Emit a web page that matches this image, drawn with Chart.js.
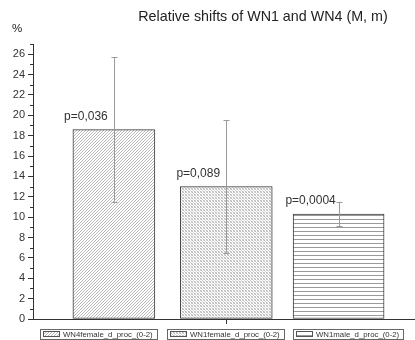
<!DOCTYPE html>
<html>
<head>
<meta charset="utf-8">
<script src="https://cdn.jsdelivr.net/npm/chart.js@4.4.1/dist/chart.umd.min.js"></script>
<style>
  html, body { margin: 0; padding: 0; background: #ffffff; }
  #wrap { width: 415px; height: 340px; }
</style>
</head>
<body>
<div id="wrap"><canvas id="c" width="415" height="340"></canvas></div>
<script>
// ---- chart data ----
const titleText = 'Relative shifts of WN1 and WN4 (M, m)';
const unitLabel = '%';
const seriesNames = ['WN4female_d_proc_(0-2)', 'WN1female_d_proc_(0-2)', 'WN1male_d_proc_(0-2)'];
const groupPositions = [1, 2, 3];
const meanValues = [18.6, 13.0, 10.3];
const errorValues = [7.1, 6.5, 1.2];
const pValueLabels = ['p=0,036', 'p=0,089', 'p=0,0004'];
const yTickValues = [0, 2, 4, 6, 8, 10, 12, 14, 16, 18, 20, 22, 24, 26];

const FONT = '"Liberation Sans", Arial, sans-serif';
const INK = '#333333';

// ---- hatch fills ----
function makePattern(kind) {
  const s = kind === 'horiz' ? 4 : 3;
  const c = document.createElement('canvas');
  c.width = s; c.height = s;
  const g = c.getContext('2d');
  g.fillStyle = '#ffffff';
  g.fillRect(0, 0, s, s);
  const col = '#a8a8a8';
  g.strokeStyle = col;
  g.fillStyle = col;
  g.lineWidth = 0.8;
  const diagUp = () => {
    g.beginPath();
    g.moveTo(-1, s + 1); g.lineTo(s + 1, -1);
    g.moveTo(-1, 1); g.lineTo(1, -1);
    g.moveTo(s - 1, s + 1); g.lineTo(s + 1, s - 1);
    g.stroke();
  };
  if (kind === 'diag') {
    diagUp();
  } else if (kind === 'cross') {
    // small checker texture
    g.fillStyle = '#bcbcbc';
    g.fillRect(0, 0, 1, 1);
    g.fillRect(2, 2, 1, 1);
    g.fillStyle = '#d6d6d6';
    g.fillRect(1, 1, 1, 1);
    g.fillRect(0, 2, 1, 1);
    g.fillRect(2, 0, 1, 1);
  } else {
    g.fillStyle = '#9a9a9a';
    g.fillRect(0, s - 1, s, 1);
  }
  return g.createPattern(c, 'repeat');
}

const fills = [makePattern('diag'), makePattern('cross'), makePattern('horiz')];
const thickness = [82, 92, 91];

const datasets = seriesNames.map((name, i) => ({
  label: name,
  data: [{ x: groupPositions[i], y: meanValues[i] }],
  backgroundColor: fills[i],
  borderColor: '#3c3c3c',
  borderWidth: 1,
  borderSkipped: false,
  barThickness: thickness[i],
  grouped: false
}));

// error bars, value notes, minor ticks, title and legend boxes
const decor = {
  id: 'decor',
  afterDatasetsDraw(chart) {
    const ctx = chart.ctx;
    const y = chart.scales.y;
    ctx.save();
    chart.data.datasets.forEach((ds, i) => {
      const el = chart.getDatasetMeta(i).data[0];
      const cx = Math.round(el.x) + 0.5;
      const top = y.getPixelForValue(meanValues[i] + errorValues[i]);
      const bot = y.getPixelForValue(meanValues[i] - errorValues[i]);
      ctx.strokeStyle = '#9a9a9a';
      ctx.lineWidth = 1;
      ctx.beginPath();
      ctx.moveTo(cx, top); ctx.lineTo(cx, bot);
      ctx.moveTo(cx - 3, Math.round(top) + 0.5); ctx.lineTo(cx + 3, Math.round(top) + 0.5);
      ctx.moveTo(cx - 3, Math.round(bot) + 0.5); ctx.lineTo(cx + 3, Math.round(bot) + 0.5);
      ctx.stroke();

      ctx.fillStyle = INK;
      ctx.font = '12px ' + FONT;
      ctx.textAlign = 'center';
      ctx.textBaseline = 'middle';
      ctx.fillText(pValueLabels[i], el.x - 28, el.y - 13);
    });
    ctx.restore();
  },
  afterDraw(chart) {
    const ctx = chart.ctx;
    const y = chart.scales.y;
    const area = chart.chartArea;
    ctx.save();
    // minor ticks on the value axis
    ctx.strokeStyle = INK;
    ctx.lineWidth = 1;
    ctx.beginPath();
    for (let v = 1; v <= y.max; v += 2) {
      const py = Math.round(y.getPixelForValue(v)) + 0.5;
      ctx.moveTo(area.left - 3, py); ctx.lineTo(area.left, py);
    }
    ctx.stroke();

    // title and unit
    ctx.fillStyle = '#222222';
    ctx.textBaseline = 'middle';
    ctx.textAlign = 'center';
    ctx.font = '14.3px ' + FONT;
    ctx.fillText(titleText, 263, 17);
    ctx.font = '11.5px ' + FONT;
    ctx.fillText(unitLabel, 17, 29);

    // legend boxes
    ctx.font = '7.8px ' + FONT;
    ctx.textAlign = 'left';
    let x = 40;
    const top = 329, h = 10;
    chart.data.datasets.forEach((ds, i) => {
      const tw = ctx.measureText(ds.label).width;
      const w = 2 + 17 + 4 + tw + 4;
      ctx.strokeStyle = '#666666';
      ctx.strokeRect(Math.round(x) + 0.5, top + 0.5, Math.round(w), h);
      ctx.fillStyle = ds.backgroundColor;
      ctx.fillRect(Math.round(x) + 3, top + 3, 17, 5);
      ctx.strokeStyle = '#555555';
      ctx.strokeRect(Math.round(x) + 3.5, top + 2.5, 16, 5);
      ctx.fillStyle = INK;
      ctx.fillText(ds.label, Math.round(x) + 23, top + h / 2 + 0.5);
      x += w + 10;
    });
    ctx.restore();
  }
};

new Chart(document.getElementById('c'), {
  type: 'bar',
  data: { datasets },
  options: {
    responsive: false,
    animation: false,
    devicePixelRatio: 1,
    layout: { padding: { top: 44, bottom: 15, left: 0, right: 0 } },
    plugins: { legend: { display: false }, tooltip: { enabled: false }, title: { display: false } },
    scales: {
      x: {
        type: 'linear',
        min: 0.28,
        max: 3.68,
        offset: false,
        afterBuildTicks: s => { s.ticks = [{ value: groupPositions[1] }]; },
        afterFit: s => { s.height = 6; },
        ticks: { display: false },
        grid: { offset: false, drawOnChartArea: false, drawTicks: true, tickLength: 5, tickColor: INK },
        border: { color: INK, width: 1 }
      },
      y: {
        min: 0,
        max: 27,
        afterBuildTicks: s => { s.ticks = yTickValues.map(v => ({ value: v })); },
        afterFit: s => { s.width = 33; },
        ticks: { color: INK, font: { family: FONT, size: 11 }, padding: 3 },
        grid: { drawOnChartArea: false, drawTicks: true, tickLength: 5, tickColor: INK },
        border: { color: INK, width: 1 }
      }
    }
  },
  plugins: [decor]
});
</script>
</body>
</html>
